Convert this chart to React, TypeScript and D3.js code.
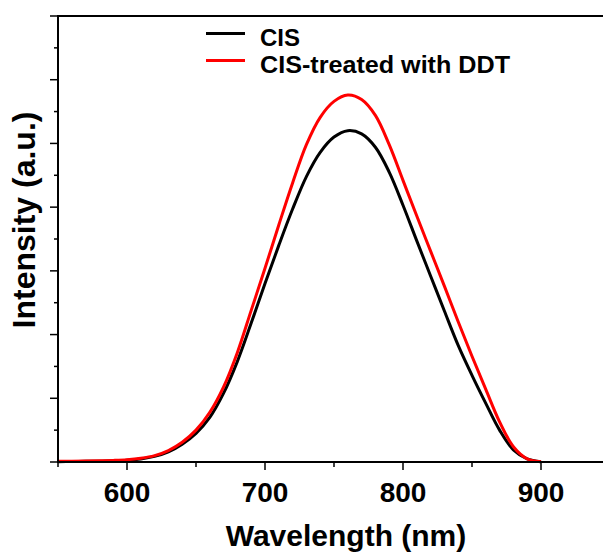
import React from "react";
import * as d3 from "d3";

const wavelengths = [550, 560, 570, 580, 590, 600, 610, 620, 630, 640, 650, 660, 670, 680, 690, 700, 710, 720, 730, 740, 750, 760, 770, 780, 790, 800, 810, 820, 830, 840, 850, 860, 870, 880, 890, 900];
const cisValues = [0.005, 0.008, 0.01, 0.013, 0.018, 0.028, 0.048, 0.088, 0.16, 0.28, 0.45, 0.7, 1.08, 1.58, 2.18, 2.8, 3.4, 3.97, 4.48, 4.86, 5.1, 5.2, 5.15, 4.94, 4.55, 4.03, 3.47, 2.92, 2.37, 1.83, 1.36, 0.92, 0.5, 0.19, 0.05, 0.005];
const ddtValues = [0.012, 0.013, 0.016, 0.02, 0.025, 0.035, 0.058, 0.1, 0.18, 0.31, 0.5, 0.78, 1.18, 1.72, 2.38, 3.04, 3.72, 4.38, 4.98, 5.41, 5.66, 5.76, 5.69, 5.44, 4.98, 4.42, 3.86, 3.31, 2.76, 2.2, 1.66, 1.14, 0.63, 0.24, 0.05, 0.005];
const xMajorTicks = [600, 700, 800, 900];
const xMinorTicks = [550, 650, 750, 850];
const yMajorTicks = [0, 1, 2, 3, 4, 5, 6, 7];
const yMinorTicks = [0.5, 1.5, 2.5, 3.5, 4.5, 5.5, 6.5];
const seriesNames = ["CIS", "CIS-treated with DDT"];
const seriesColors = ["#000000", "#ff0000"];

const W = 603;
const H = 554;
const left = 58;
const top = 16;
const bottom = 462;
const FONT = "'Liberation Sans', Arial, Helvetica, sans-serif";

export default function App() {
  const x = d3.scaleLinear().domain([550, 950]).range([left, 610]);
  const y = d3.scaleLinear().domain([0, 7]).range([bottom, top]);
  const line = d3
    .line<number>()
    .x((_, i) => x(wavelengths[i]))
    .y((d) => y(d))
    .curve(d3.curveCatmullRom.alpha(0.5));
  const series = [cisValues, ddtValues];

  return (
    <svg
      width={W}
      height={H}
      viewBox={`0 0 ${W} ${H}`}
      style={{ position: "absolute", left: 0, top: 0, background: "#fff" }}
    >
      <rect x={0} y={0} width={W} height={H} fill="#fff" />
      {series.map((vals, si) => (
        <path
          key={si}
          d={line(vals) || ""}
          fill="none"
          stroke={seriesColors[si]}
          strokeWidth={3}
          strokeLinejoin="round"
        />
      ))}
      <line x1={left} x2={W + 5} y1={top} y2={top} stroke="#000" strokeWidth={2} />
      <line x1={left} x2={W + 5} y1={bottom} y2={bottom} stroke="#000" strokeWidth={2} />
      <line x1={left} x2={left} y1={top - 1} y2={bottom + 1} stroke="#000" strokeWidth={2} />
      {xMajorTicks.map((t) => (
        <g key={"xm" + t}>
          <line x1={x(t)} x2={x(t)} y1={bottom} y2={bottom + 8} stroke="#000" strokeWidth={1.5} />
          <text
            x={x(t)}
            y={502}
            textAnchor="middle"
            fontFamily={FONT}
            fontWeight="bold"
            fontSize={28}
            fill="#000"
          >
            {t}
          </text>
        </g>
      ))}
      {xMinorTicks.map((t) => (
        <line key={"xn" + t} x1={x(t)} x2={x(t)} y1={bottom} y2={bottom + 5} stroke="#000" strokeWidth={1.5} />
      ))}
      {yMajorTicks.map((t) => (
        <line key={"ym" + t} x1={left - 8} x2={left} y1={y(t)} y2={y(t)} stroke="#000" strokeWidth={1.5} />
      ))}
      {yMinorTicks.map((t) => (
        <line key={"yn" + t} x1={left - 4} x2={left} y1={y(t)} y2={y(t)} stroke="#000" strokeWidth={1.5} />
      ))}
      <text
        x={346}
        y={546}
        textAnchor="middle"
        fontFamily={FONT}
        fontWeight="bold"
        fontSize={30}
        fill="#000"
      >
        Wavelength (nm)
      </text>
      <text
        transform={`translate(35, 220) rotate(-90)`}
        textAnchor="middle"
        fontFamily={FONT}
        fontWeight="bold"
        fontSize={32}
        fill="#000"
      >
        Intensity (a.u.)
      </text>
      {seriesNames.map((n, i) => (
        <g key={n}>
          <line
            x1={206}
            x2={245}
            y1={33.5 + i * 27}
            y2={33.5 + i * 27}
            stroke={seriesColors[i]}
            strokeWidth={3}
          />
          <text
            x={260}
            y={45.5 + i * 27}
            fontFamily={FONT}
            fontWeight="bold"
            fontSize={24}
            textLength={i === 1 ? 250 : undefined}
            lengthAdjust="spacingAndGlyphs"
            fill="#000"
          >
            {n}
          </text>
        </g>
      ))}
    </svg>
  );
}
